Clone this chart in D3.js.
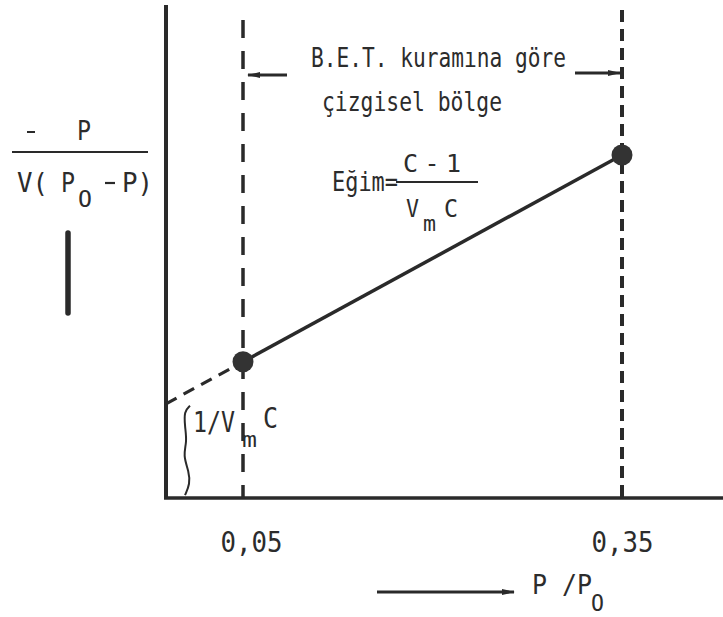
<!DOCTYPE html>
<html>
<head>
<meta charset="utf-8">
<script src="https://cdn.jsdelivr.net/npm/d3@7"></script>
<style>
  body { margin: 0; background: #ffffff; }
  svg text { font-family: "DejaVu Sans Mono", "Liberation Mono", monospace; fill: #2c2c2c; }
</style>
</head>
<body>
<svg id="chart" width="723" height="617"></svg>
<script>
// P/P0 limits of the region where the BET equation is linear
const regionBounds = [0.05, 0.35];
const tickLabels = ["0,05", "0,35"];
// Measured points: relative pressure and P / V(P0 - P) in arbitrary units
const pressureRatio = [0.05, 0.35];
const transformedY = [2.78, 7.0];
// Top of the vertical axis, same units
const yMax = 10;

const W = 723, H = 617;
const ink = "#2a2a2a";
const svg = d3.select("#chart");

const x = d3.scaleLinear().domain(regionBounds).range([243, 622]);
const y = d3.scaleLinear().domain([0, yMax]).range([498, 8]);
const xOrigin = x.invert(166);

// straight line through the two measured points, extrapolated to the axis
const slope = (transformedY[1] - transformedY[0]) / (pressureRatio[1] - pressureRatio[0]);
const intercept = transformedY[0] + slope * (xOrigin - pressureRatio[0]);

const defs = svg.append("defs");
defs.append("marker")
  .attr("id", "head")
  .attr("viewBox", "0 0 13 8")
  .attr("refX", 12).attr("refY", 4)
  .attr("markerWidth", 13).attr("markerHeight", 8)
  .attr("markerUnits", "userSpaceOnUse")
  .attr("orient", "auto")
  .append("path").attr("d", "M0,1 L13,4 L0,7 Z").attr("fill", ink);

// axes
svg.append("line")
  .attr("x1", x(xOrigin)).attr("x2", x(xOrigin))
  .attr("y1", y(yMax) - 3).attr("y2", y(0) + 1)
  .attr("stroke", ink).attr("stroke-width", 4);
svg.append("line")
  .attr("x1", x(xOrigin) - 2).attr("x2", W)
  .attr("y1", y(0)).attr("y2", y(0))
  .attr("stroke", ink).attr("stroke-width", 3.5);

// tick labels under the region limits
const xAxis = d3.axisBottom(x)
  .tickValues(regionBounds)
  .tickFormat((d, i) => tickLabels[i])
  .tickSize(0)
  .tickPadding(34);
const gx = svg.append("g").attr("transform", `translate(0,${y(0)})`).call(xAxis);
gx.select(".domain").remove();
gx.selectAll("text")
  .attr("font-size", 28)
  .attr("font-family", "DejaVu Sans Mono")
  .attr("fill", "#2c2c2c")
  .attr("textLength", 62)
  .attr("lengthAdjust", "spacingAndGlyphs")
  .attr("dx", (d, i) => i === 0 ? 8 : 0);

// vertical dashed boundaries of the linear region
svg.selectAll("line.bound")
  .data(regionBounds)
  .join("line")
  .attr("class", "bound")
  .attr("x1", d => x(d)).attr("x2", d => x(d))
  .attr("y1", (d, i) => i === 0 ? 20 : 10)
  .attr("y2", y(0))
  .attr("stroke", ink)
  .attr("stroke-width", (d, i) => i === 0 ? 3.5 : 4)
  .attr("stroke-dasharray", (d, i) => i === 0 ? "18,13" : "12,7");

// extrapolated part down to the intercept
svg.append("line")
  .attr("x1", x(xOrigin)).attr("y1", y(intercept))
  .attr("x2", x(pressureRatio[0])).attr("y2", y(transformedY[0]))
  .attr("stroke", ink).attr("stroke-width", 3.2)
  .attr("stroke-dasharray", "12,8");

// linear region
svg.append("path")
  .datum(pressureRatio.map((p, i) => [p, transformedY[i]]))
  .attr("d", d3.line().x(d => x(d[0])).y(d => y(d[1])))
  .attr("fill", "none").attr("stroke", ink).attr("stroke-width", 3.5);

svg.selectAll("circle.pt")
  .data(pressureRatio)
  .join("circle")
  .attr("class", "pt")
  .attr("cx", d => x(d))
  .attr("cy", (d, i) => y(transformedY[i]))
  .attr("r", 10.5)
  .attr("fill", "#333");

// brace marking the intercept 1/VmC
const braceX = x(xOrigin) + 20;
const yTop = y(intercept), yBot = y(0);
const h = yBot - yTop;
const bracePts = [
  [braceX + 4, yTop + 2], [braceX - 2, yTop + 0.08 * h], [braceX - 1, yTop + 0.25 * h],
  [braceX + 1, yTop + 0.4 * h], [braceX - 3, yTop + 0.55 * h], [braceX + 3, yTop + 0.72 * h],
  [braceX + 4, yTop + 0.85 * h], [braceX - 1, yTop + 0.97 * h]
];
svg.append("path")
  .attr("d", d3.line().curve(d3.curveBasis)(bracePts))
  .attr("fill", "none").attr("stroke", ink).attr("stroke-width", 2);

function label(px, py, str, size, opts = {}) {
  const t = svg.append("text")
    .attr("x", px).attr("y", py)
    .attr("font-size", size)
    .attr("text-anchor", opts.anchor || "start")
    .text(str);
  if (opts.len) t.attr("textLength", opts.len).attr("lengthAdjust", opts.adjust || "spacingAndGlyphs");
  return t;
}

// region annotation with arrows pointing at both boundaries
label(311, 67, "B.E.T. kuramına göre", 27, { len: 255 });
label(322, 111, "çizgisel bölge", 27, { len: 180 });
svg.append("line")
  .attr("x1", 287).attr("x2", x(regionBounds[0]) + 5)
  .attr("y1", 75).attr("y2", 75)
  .attr("stroke", ink).attr("stroke-width", 3)
  .attr("marker-end", "url(#head)");
svg.append("line")
  .attr("x1", 575).attr("x2", x(regionBounds[1]) - 2)
  .attr("y1", 73).attr("y2", 73)
  .attr("stroke", ink).attr("stroke-width", 3)
  .attr("marker-end", "url(#head)");

// slope formula
label(332, 191, "Eğim=", 27, { len: 66 });
svg.append("line")
  .attr("x1", 396).attr("x2", 478).attr("y1", 182).attr("y2", 182)
  .attr("stroke", ink).attr("stroke-width", 2.2);
label(403, 172, "C-1", 25, { len: 58, adjust: "spacing" });
label(406, 217, "V", 24, { len: 13 });
label(423, 231, "m", 21, { len: 13 });
label(444, 217, "C", 24, { len: 14 });

// intercept label
label(193, 432, "1/V", 28, { len: 42 });
label(242, 447, "m", 22, { len: 15 });
label(263, 428, "C", 28, { len: 15 });

// vertical axis title
svg.append("line").attr("x1", 27).attr("x2", 35).attr("y1", 132).attr("y2", 132)
  .attr("stroke", ink).attr("stroke-width", 2);
label(84, 140, "P", 26, { anchor: "middle", len: 14 });
svg.append("line").attr("x1", 12).attr("x2", 148).attr("y1", 152).attr("y2", 152)
  .attr("stroke", ink).attr("stroke-width", 2.2);
label(17, 192, "V(", 26, { len: 31 });
label(61, 192, "P", 26, { len: 14 });
label(78, 207, "O", 23, { len: 14 });
svg.append("line").attr("x1", 105).attr("x2", 115).attr("y1", 183).attr("y2", 183)
  .attr("stroke", ink).attr("stroke-width", 2.2);
label(122, 192, "P)", 26, { len: 31 });
svg.append("line").attr("x1", 68).attr("x2", 68).attr("y1", 233).attr("y2", 313)
  .attr("stroke", ink).attr("stroke-width", 5.5).attr("stroke-linecap", "round");

// horizontal axis title
svg.append("line")
  .attr("x1", 377).attr("x2", 514).attr("y1", 592).attr("y2", 592)
  .attr("stroke", ink).attr("stroke-width", 3)
  .attr("marker-end", "url(#head)");
label(532, 594, "P", 27, { len: 15 });
label(562, 594, "/P", 27, { len: 30 });
label(591, 611, "O", 23, { len: 13 });
</script>
</body>
</html>
